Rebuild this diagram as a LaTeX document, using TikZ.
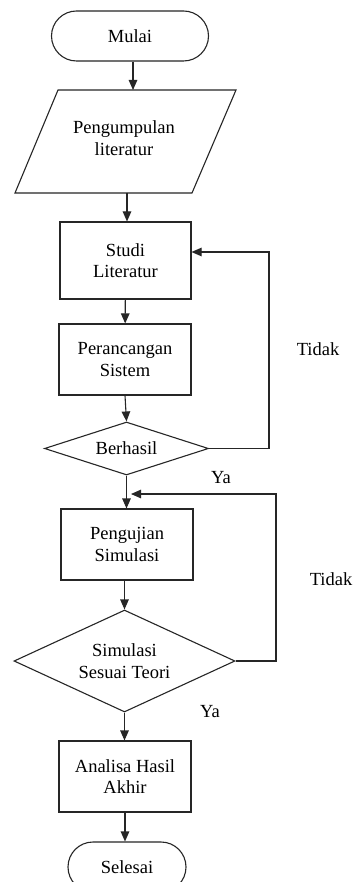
\documentclass[tikz,border=0pt]{standalone}
\usepackage{fontspec}
\setmainfont{Liberation Serif}
\usetikzlibrary{shapes.geometric,shapes.misc,arrows.meta}
\begin{document}
\begin{tikzpicture}[x=1pt,y=-1pt,
  font=\fontsize{18.5}{21.5}\selectfont,
  line width=1.1pt,
  draw=black!85,
  arr/.style={-{Triangle[length=10pt,width=8.5pt]}},
  proc/.style={draw, rectangle, minimum width=132pt, minimum height=71pt, inner sep=0pt, align=center},
  term/.style={draw, rounded rectangle, minimum width=157pt, minimum height=50pt, inner sep=0pt},
  dec/.style={draw, diamond, inner sep=0pt, align=center},
  lbl/.style={inner sep=0pt}
]
\useasboundingbox (0,0) rectangle (354,882);
\fill[white] (0,0) rectangle (354,882);

% Start
\node[term] (mulai) at (130,36) {Mulai};

% Parallelogram
\coordinate (p1) at (58,90);
\coordinate (p2) at (236,90);
\coordinate (p3) at (192,193);
\coordinate (p4) at (15,193);
\draw (p1) -- (p2) -- (p3) -- (p4) -- cycle;
\node[align=center, inner sep=0pt] (pl) at (124,138) {Pengumpulan\\literatur};
\coordinate (pltop) at (133,90);
\coordinate (plbot) at (127,193);

% Process boxes
\node[proc, minimum width=131pt, minimum height=77pt] (studi) at (125.5,260.5) {Studi\\Literatur};
\node[proc] (peran) at (125,359.5) {Perancangan\\Sistem};
\node[dec, shape aspect=3, minimum width=164pt, minimum height=53pt] (berhasil) at (126.5,448.5) {Berhasil};
\node[proc] (uji) at (127,544.5) {Pengujian\\Simulasi};
\node[dec, shape aspect=2.2, minimum width=221pt, minimum height=102pt] (sim) at (124.5,661) {Simulasi\\Sesuai Teori};
\node[proc] (analisa) at (125,776.5) {Analisa Hasil\\Akhir};
\node[term, minimum width=118pt] (selesai) at (127,867) {Selesai};

% Main flow arrows
\draw[arr] (mulai.south -| pltop) -- (pltop);
\draw[arr] (plbot) -- (plbot |- studi.north);
\draw[arr] (studi) -- (peran);
\draw[arr] (peran.south) -- (berhasil.north);
\draw[arr] (berhasil.south) -- (uji.north -| berhasil.south);
\draw[arr] (uji.south -| sim.north) -- (sim.north);
\draw[arr] (sim.south) -- (analisa.north -| sim.south);
\draw[arr] (analisa.south) -- (selesai.north -| analisa.south);

% Loops
\coordinate (r1) at (269,252);
\draw[arr] (berhasil.east) -| (r1) -- (r1 -| studi.east);
\coordinate (r2) at (276,494);
\coordinate (j2) at (131,494);
\draw[arr] (sim.east) -| (r2) -- (j2);

% Labels
\node[lbl] (t1) at (318,349) {Tidak};
\node[lbl] (y1) at (221,478) {Ya};
\node[lbl] (t2) at (331,579) {Tidak};
\node[lbl] (y2) at (210,712) {Ya};
\end{tikzpicture}
\end{document}
